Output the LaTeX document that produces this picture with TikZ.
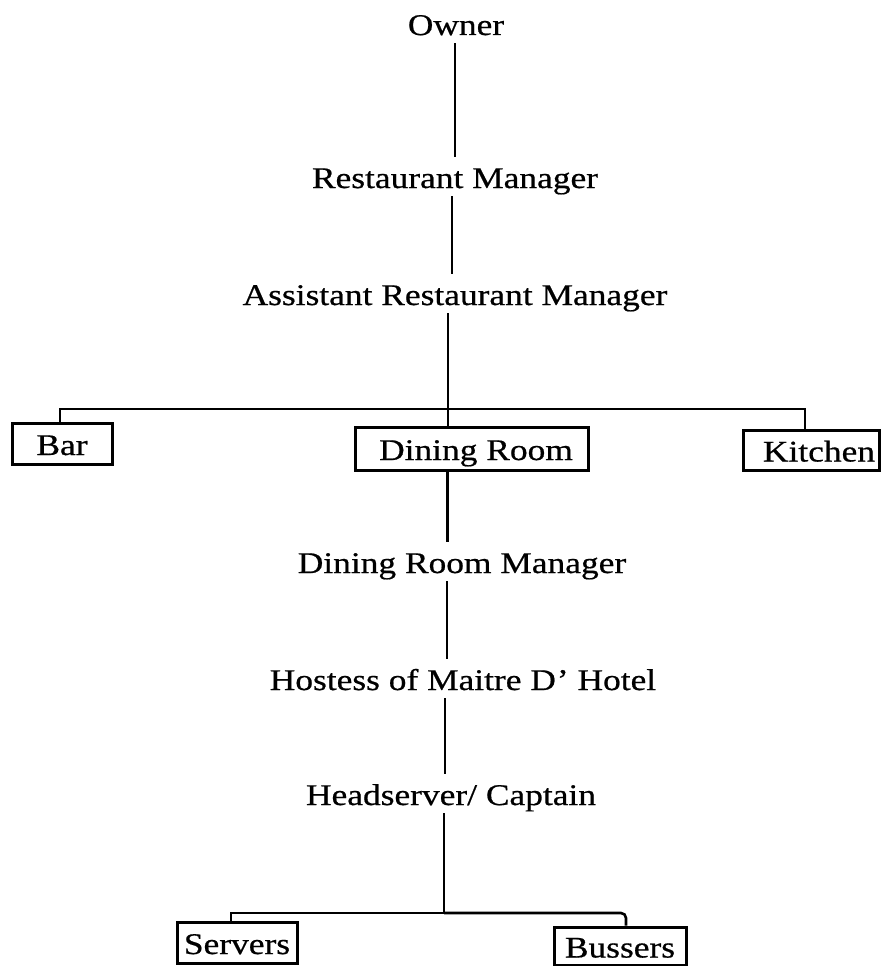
\documentclass[tikz,border=0pt]{standalone}
\usepackage{fontspec}
\setmainfont{Liberation Serif}[FakeStretch=1.18, FakeBold=0.6]
\begin{document}
\begin{tikzpicture}[x=1pt,y=-1pt,
  lbl/.style={font=\fontsize{30}{36}\selectfont, text height=23pt, text depth=0pt,
              inner xsep=2pt, inner ysep=8pt, anchor=base},
  boxn/.style={draw, line width=3pt, inner sep=0pt, anchor=center,
               font=\fontsize{30}{36}\selectfont, text height=23pt, text depth=0pt},
  conn/.style={line width=2.6pt}]
\useasboundingbox (0,0) rectangle (881,966);
% titles
\node[lbl] (owner) at (456,35) {Owner};
\node[lbl] (rm)    at (455,188) {Restaurant Manager};
\node[lbl] (arm)   at (455,305) {Assistant Restaurant Manager};
\node[lbl] (drm)   at (462,573) {Dining Room Manager};
\node[lbl] (host)  at (463,690) {Hostess of Maitre D\kern1pt’ Hotel};
\node[lbl] (head)  at (451,805) {Headserver/ Captain};
% boxes
\node[boxn, minimum width=100pt, minimum height=41pt] (bar) at (62,443.5) {Bar};
\node[boxn, minimum width=233pt, minimum height=43pt] (dr)  at (471.5,448.5) {\hspace*{9pt}Dining Room};
\node[boxn, minimum width=136pt, minimum height=40pt] (kit) at (811,450) {\hspace*{16pt}Kitchen};
\node[boxn, minimum width=120pt, minimum height=41pt] (serv) at (237,942.5) {Servers};
\node[boxn, minimum width=132pt, minimum height=38pt] (buss) at (620,946) {Bussers};
% junctions
\coordinate (j1) at (448,409);
\coordinate (j2) at (444,913);
% spine
\draw[conn] ([xshift=-1pt]owner.south) -- ([xshift=-1pt]owner.south |- rm.north);
\draw[conn] ([xshift=-3pt]rm.south) -- ([xshift=-3pt]rm.south |- arm.north);
\draw[conn] ([xshift=-7pt]arm.south) -- ([xshift=-7pt]arm.south |- dr.north);
\draw[conn] ([xshift=-2pt]bar.north) |- (j1) -| ([xshift=-6pt]kit.north);
\draw[conn] ([xshift=-24pt]dr.south) -- ([xshift=-24pt]dr.south |- drm.north);
\draw[conn] ([xshift=-15pt]drm.south) -- ([xshift=-15pt]drm.south |- host.north);
\draw[conn] ([xshift=-18pt]host.south) -- ([xshift=-18pt]host.south |- head.north);
\draw[conn] ([xshift=-7pt]head.south) -- (j2);
\draw[conn] ([xshift=-6pt]serv.north) |- (j2);
\draw[conn, rounded corners=5pt] (j2) -| ([xshift=6pt]buss.north);
\end{tikzpicture}
\end{document}
